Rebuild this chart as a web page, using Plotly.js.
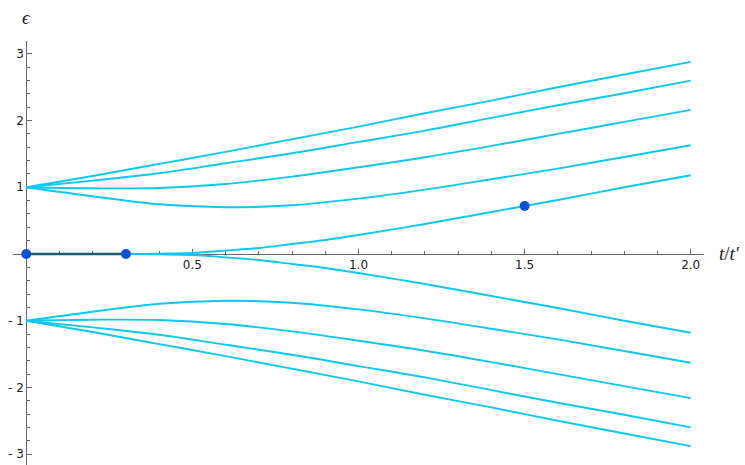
<!DOCTYPE html>
<html>
<head>
<meta charset="utf-8">
<script src="https://cdn.plot.ly/plotly-3.0.1.min.js"></script>
<style>html,body{margin:0;padding:0;background:#fff;}#plot{width:745px;height:465px;}</style>
</head>
<body>
<div id="plot"></div>
<script>
// t/t' sample positions
var tBand = [0, 0.2, 0.4, 0.6, 0.8, 1.0, 1.2, 1.4, 1.6, 1.8, 2.0];
var tEdge = [0, 0.2, 0.3, 0.4, 0.5, 0.6, 0.7, 0.8, 0.9, 1.0, 1.2, 1.4, 1.6, 1.8, 2.0];

// upper branches
var band1 = [1, 1.17, 1.35, 1.53, 1.72, 1.91, 2.11, 2.30, 2.50, 2.69, 2.88];
var band2 = [1, 1.10, 1.21, 1.36, 1.51, 1.68, 1.85, 2.04, 2.23, 2.41, 2.60];
var band3 = [1, 0.985, 0.99, 1.05, 1.16, 1.30, 1.45, 1.62, 1.80, 1.98, 2.16];
var band4 = [1, 0.865, 0.745, 0.70, 0.73, 0.83, 0.965, 1.12, 1.28, 1.455, 1.63];
var edge  = [0, 0, 0, 0.005, 0.015, 0.05, 0.09, 0.15, 0.21, 0.285, 0.45, 0.63, 0.81, 1.0, 1.18];

// lower branches
var band1n = [-1, -1.17, -1.35, -1.53, -1.72, -1.91, -2.11, -2.30, -2.50, -2.69, -2.88];
var band2n = [-1, -1.10, -1.21, -1.36, -1.51, -1.68, -1.85, -2.04, -2.23, -2.41, -2.60];
var band3n = [-1, -0.985, -0.99, -1.05, -1.16, -1.30, -1.45, -1.62, -1.80, -1.98, -2.16];
var band4n = [-1, -0.865, -0.745, -0.70, -0.73, -0.83, -0.965, -1.12, -1.28, -1.455, -1.63];
var edgen  = [0, 0, 0, -0.005, -0.015, -0.05, -0.09, -0.15, -0.21, -0.285, -0.45, -0.63, -0.81, -1.0, -1.18];

// highlighted points
var dotX = [0, 0.3, 1.5];
var dotY = [0, 0, 0.72];

// tick labels
var xTickVals = [0.5, 1.0, 1.5, 2.0];
var xTickText = ['0.5', '1.0', '1.5', '2.0'];
var yTickVals = [-3, -2, -1, 1, 2, 3];
var yTickText = ['- 3', '- 2', '- 1', '1', '2', '3'];

var cyan = '#0cc8f4';
function curve(x, y) {
  return {x: x, y: y, type: 'scatter', mode: 'lines',
    line: {color: cyan, width: 1.9, shape: 'spline', smoothing: 1},
    hoverinfo: 'skip', showlegend: false, cliponaxis: false};
}

var traces = [
  curve(tBand, band1), curve(tBand, band2), curve(tBand, band3), curve(tBand, band4), curve(tEdge, edge),
  curve(tBand, band1n), curve(tBand, band2n), curve(tBand, band3n), curve(tBand, band4n), curve(tEdge, edgen),
  {x: dotX.slice(0, 2), y: dotY.slice(0, 2), type: 'scatter', mode: 'lines',
    line: {color: '#155f70', width: 2.6}, showlegend: false, hoverinfo: 'skip', cliponaxis: false},
  {x: dotX, y: dotY, type: 'scatter', mode: 'markers',
    marker: {color: '#0a50d2', size: 10}, showlegend: false, hoverinfo: 'skip', cliponaxis: false}
];

var xr = [-0.04, 2.04];
var yr = [-3.163, 3.193];
var axisCol = '#666666';

var layout = {
  width: 745, height: 465, autosize: false,
  margin: {l: 13.4, r: 41.4, t: 41, b: 0, pad: 0},
  paper_bgcolor: '#ffffff', plot_bgcolor: '#ffffff',
  showlegend: false,
  xaxis: {
    range: xr, anchor: 'free', position: (0 - yr[0]) / (yr[1] - yr[0]),
    showgrid: false, zeroline: false, showline: true, linecolor: axisCol, linewidth: 1,
    tickmode: 'array', tickvals: xTickVals, ticktext: xTickText,
    ticks: 'inside', ticklen: 5, tickcolor: axisCol, tickwidth: 1,
    minor: {ticks: 'inside', dtick: 0.1, tick0: 0, ticklen: 3, tickcolor: axisCol, tickwidth: 1, showgrid: false},
    tickfont: {family: 'DejaVu Sans', size: 12, color: '#222'},
    layer: 'below traces', fixedrange: true
  },
  yaxis: {
    range: yr, anchor: 'free', position: (0 - xr[0]) / (xr[1] - xr[0]),
    showgrid: false, zeroline: false, showline: true, linecolor: axisCol, linewidth: 1,
    tickmode: 'array', tickvals: yTickVals, ticktext: yTickText,
    ticks: 'inside', ticklen: 5, tickcolor: axisCol, tickwidth: 1,
    minor: {ticks: 'inside', dtick: 0.2, tick0: 0, ticklen: 3, tickcolor: axisCol, tickwidth: 1, showgrid: false},
    tickfont: {family: 'DejaVu Sans', size: 12, color: '#222'},
    layer: 'below traces', fixedrange: true
  },
  annotations: [
    {text: 'ϵ', xref: 'paper', yref: 'paper', x: (27 - 13.4) / 690.2, y: (465 - 17) / 424, showarrow: false,
      xanchor: 'center', yanchor: 'middle', font: {family: 'Liberation Serif', size: 19, color: '#222', style: 'italic'}},
    {text: '<i>t</i>/<i>t′</i>', xref: 'paper', yref: 'paper', x: (729 - 13.4) / 690.2, y: (465 - 253) / 424, showarrow: false,
      xanchor: 'center', yanchor: 'middle', font: {family: 'Liberation Serif', size: 19, color: '#222'}}
  ]
};

Plotly.newPlot('plot', traces, layout, {displayModeBar: false, staticPlot: true});
</script>
</body>
</html>
